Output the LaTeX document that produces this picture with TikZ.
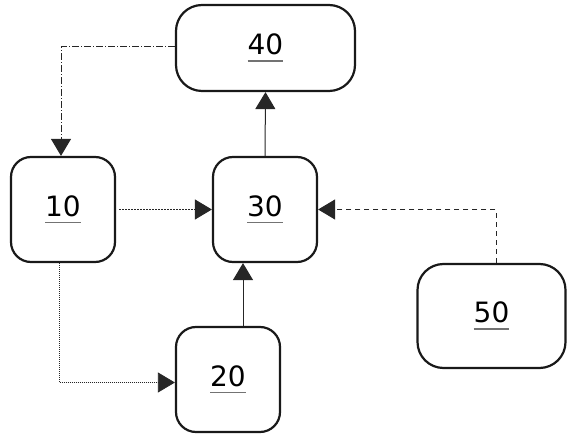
\documentclass[tikz,border=0pt]{standalone}
\usepackage{fontspec}
\setmainfont{DejaVu Sans}
\usetikzlibrary{arrows.meta,calc}
\newcommand\gul[1]{\setbox0\hbox{#1}\rlap{\textcolor{black!55}{\rule[-7pt]{\wd0}{1.5pt}}}\box0}
\begin{document}
\begin{tikzpicture}[x=1pt,y=-1pt,
  box/.style={draw=black!90,line width=2.2pt,rounded corners=20pt,inner sep=0pt,
     font=\fontsize{28}{30}\selectfont},
  widebox/.style={box,rounded corners=26pt},
  conn/.style={line width=1pt,draw=black!85,-{Triangle[length=17pt,width=20pt]}},
  dashdotconn/.style={conn,dash pattern=on 7pt off 2pt on 1pt off 2pt},
  dotconn/.style={conn,dash pattern=on 1.5pt off 1.5pt},
  finedotconn/.style={conn,line width=0.8pt,dash pattern=on 1pt off 1pt},
  dashconn/.style={conn,dash pattern=on 5pt off 4pt}]
\useasboundingbox (0,0) rectangle (567,435);
\node[box,minimum width=104pt,minimum height=105pt] (n10) at (63,209.5) {\gul{10}};
\node[box,minimum width=104pt,minimum height=105pt] (n30) at (265,209.5) {\gul{30}};
\node[box,minimum width=104pt,minimum height=105pt] (n20) at (228,379.5) {\gul{20}};
\node[widebox,minimum width=179pt,minimum height=86pt] (n40) at (265.5,48) {\gul{40}};
\node[widebox,minimum width=148pt,minimum height=104pt] (n50) at (491.5,316) {\gul{50}};
\draw[dashdotconn] ([yshift=1pt]n40.west) -| ([xshift=-2pt]n10.north);
\draw[dotconn] ([xshift=3pt]n10.east) -- (n30.west);
\draw[conn] (n30.north) -- (n40.south);
\draw[conn] ([xshift=15pt]n20.north) -- ([xshift=15pt]n20.north |- n30.south);
\draw[finedotconn] ([xshift=-4pt]n10.south) |- ([yshift=-3pt]n20.west);
\draw[dashconn] ([xshift=4.5pt]n50.north) |- (n30.east);
\end{tikzpicture}
\end{document}
